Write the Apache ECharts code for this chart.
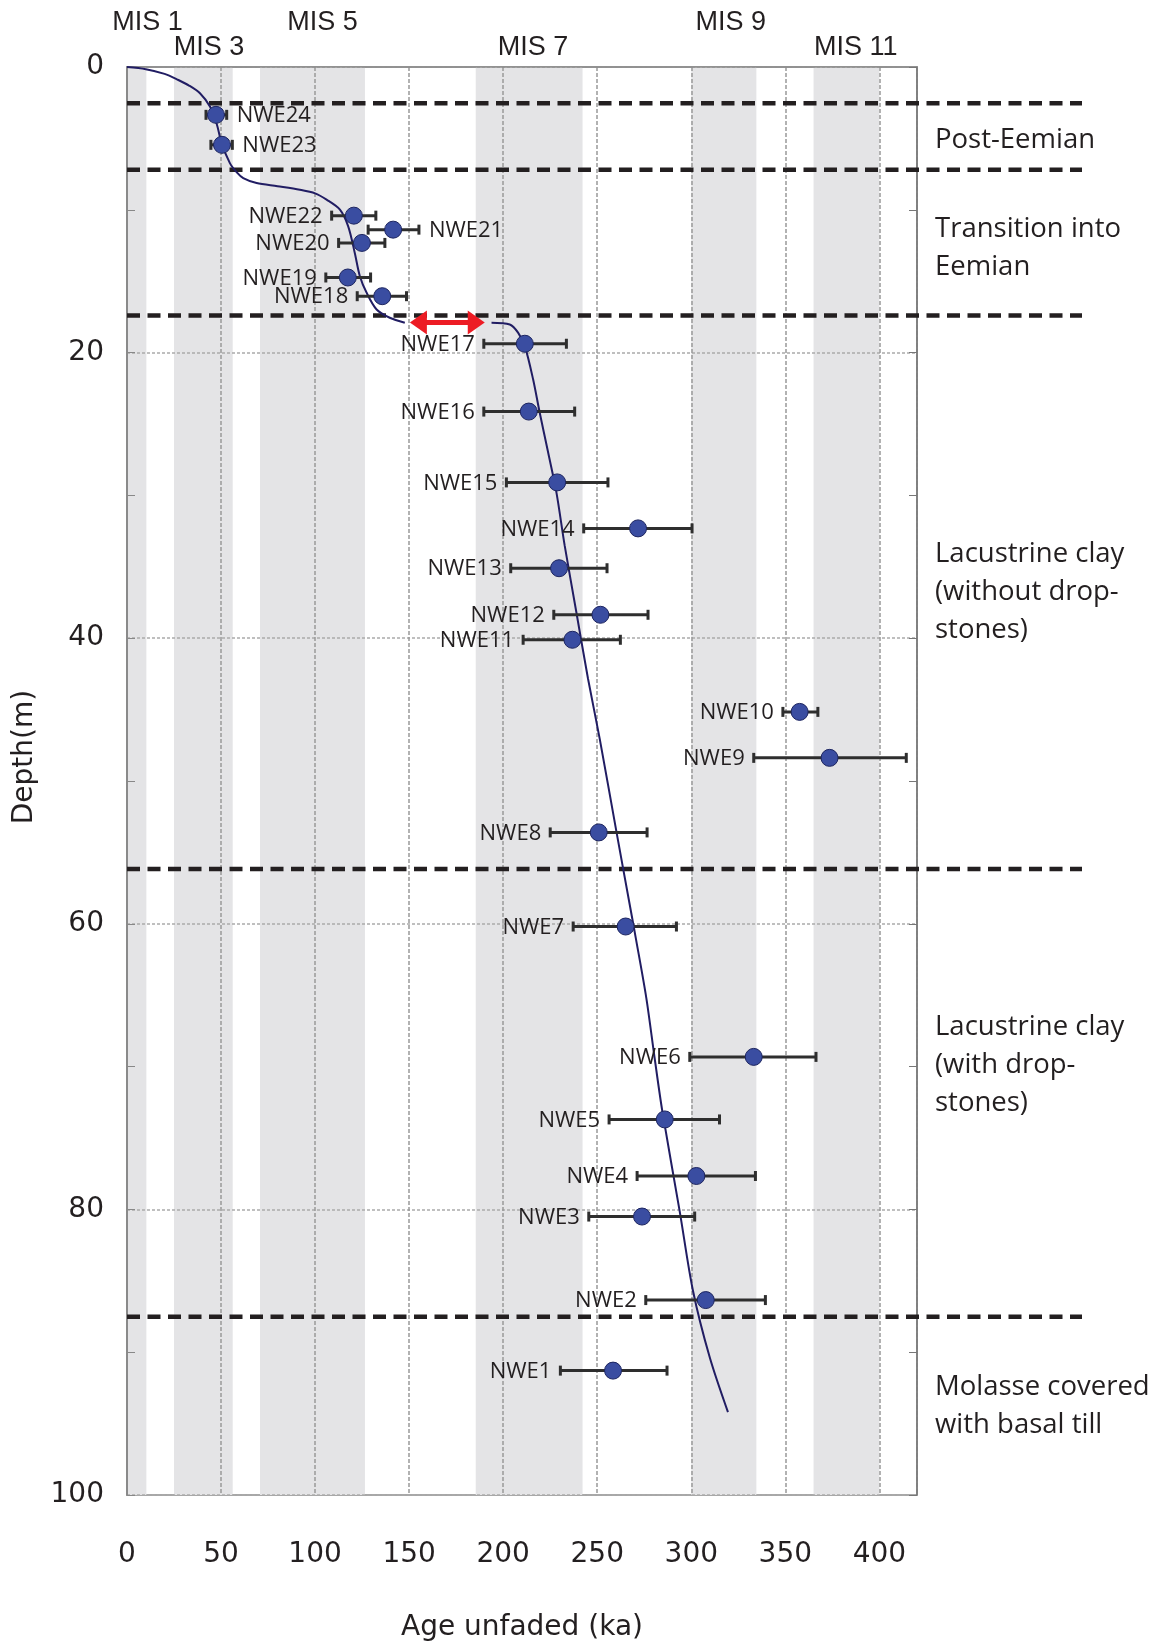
<!DOCTYPE html>
<html>
<head>
<meta charset="utf-8">
<script src="https://cdn.jsdelivr.net/npm/echarts@6/dist/echarts.min.js"></script>
<style>
html,body{margin:0;padding:0;background:#fff;}
#chart{width:1162px;height:1647px;}
</style>
</head>
<body>
<div id="chart"></div>
<script>
// ---------------- data ----------------
const sampleNames = ['NWE1','NWE2','NWE3','NWE4','NWE5','NWE6','NWE7','NWE8','NWE9','NWE10','NWE11','NWE12',
  'NWE13','NWE14','NWE15','NWE16','NWE17','NWE18','NWE19','NWE20','NWE21','NWE22','NWE23','NWE24'];
const sampleAges  = [258.4,307.7,273.8,302.7,285.9,333.2,265.1,250.8,373.5,357.6,236.8,251.7,
  229.7,271.7,228.7,213.6,211.5,135.7,117.4,124.9,141.5,120.6,50.5,47.3];
const sampleDepths = [91.29,86.35,80.5,77.66,73.7,69.32,60.19,53.6,48.38,45.16,40.11,38.36,
  35.1,32.31,29.09,24.13,19.38,16.05,14.74,12.32,11.39,10.41,5.45,3.35];
const ageLow  = [230.4,275.8,245.5,271.2,256.3,299.2,237.2,225.0,333.2,348.7,210.6,226.9,
  204.0,242.8,201.7,189.7,189.7,122.4,105.7,112.5,128.2,108.8,44.6,42.0];
const ageHigh = [287.1,339.4,301.8,334.1,315.0,366.3,292.1,276.5,414.3,367.3,262.3,277.0,
  255.2,300.4,255.7,238.0,233.6,148.6,129.5,137.1,155.2,132.3,56.0,53.0];
const labelSide = ['L','L','L','L','L','L','L','L','L','L','L','L',
  'L','L','L','L','L','L','L','L','R','L','R','R'];

// age-depth model (two segments)
const modelUpper = [[0,0],[10,0.15],[20,0.48],[27.3,0.91],[33,1.3],[38.8,1.84],[44.1,2.77],[47.6,3.94],
  [50.3,5.33],[54.7,6.73],[58.5,7.4],[61.8,7.78],[68.9,8.13],[80,8.35],[91.9,8.6],[100,8.85],
  [106.1,9.29],[113.2,9.99],[117.6,11.16],[121.1,13.02],[123.8,14.65],[127.4,15.81],[132.7,16.98],
  [139.7,17.56],[147.7,17.91]];
const modelLower = [[193.8,17.91],[203.5,18.03],[207.9,18.6],[211.5,19.55],[215.9,21.87],[219.4,24.2],
  [223.9,27],[228.3,29.79],[232.7,33.52],[238.9,38.18],[245.1,42.84],[251.3,47.03],[260.2,53.55],
  [267.3,58.68],[270.5,61.0],[276.1,65.2],[280.5,69.39],[284.6,73.12],[293.8,80.1],[300.9,85.7],
  [309.8,90.36],[319.5,94.2]];

// MIS bands
const bandStart = [0,25,70.7,185.4,300,365];
const bandEnd   = [10.3,56.2,126.5,242.2,334.6,400];
const misLabels = ['MIS 1','MIS 3','MIS 5','MIS 7','MIS 9','MIS 11'];
const misAges   = [10.9,43.6,103.9,215.8,321,387.5];
const misRow    = [0,1,0,1,0,1];

// unit boundaries (dashed) and annotation texts
const boundaryDepths = [2.54,7.2,17.4,56.16,87.51];
const unitTexts  = ['Post-Eemian','Transition into\nEemian','Lacustrine clay\n(without drop-\nstones)',
  'Lacustrine clay\n(with drop-\nstones)','Molasse covered\nwith basal till'];
const unitDepths = [5.1,12.72,36.76,69.88,93.78];

// hiatus arrow
const arrowAges = [150.4,190.2];
const arrowDepth = 17.9;

const xMax = 420, yMax = 100;

// ---------------- chart ----------------
const TXT = '#231f20';
const chart = echarts.init(document.getElementById('chart'), null, {renderer:'canvas'});

const errData = sampleNames.map((n,i)=>[ageLow[i],ageHigh[i],sampleDepths[i]]);

const option = {
  backgroundColor:'#fff',
  animation:false,
  grid:{left:127, top:67, width:790, height:1431, show:true, borderColor:'#8a8a8a', borderWidth:1.5, backgroundColor:'transparent'},
  xAxis:{
    type:'value', min:0, max:xMax, interval:50, position:'bottom', z:1,
    axisLine:{show:true, lineStyle:{color:'#8a8a8a', width:1.5}},
    axisTick:{show:false},
    axisLabel:{margin:46, fontFamily:'"DejaVu Sans"', fontSize:28, color:TXT, showMaxLabel:false},
    splitLine:{show:true, lineStyle:{color:'#999', width:1.5, type:[4,2]}},
    name:'Age unfaded (ka)', nameLocation:'middle', nameGap:119,
    nameTextStyle:{fontFamily:'"DejaVu Sans"', fontSize:28, color:TXT}
  },
  yAxis:[{
    type:'value', inverse:true, min:0, max:yMax, interval:20, position:'left', z:1,
    axisLine:{show:true, lineStyle:{color:'#8a8a8a', width:2}},
    axisTick:{show:false},
    axisLabel:{margin:23, fontFamily:'"DejaVu Sans"', fontSize:28, color:TXT},
    splitLine:{show:true, lineStyle:{color:'#aaa', width:1.5, type:[3,2]}},
    name:'Depth(m)', nameLocation:'middle', nameGap:88, nameRotate:90,
    nameTextStyle:{fontFamily:'"DejaVu Sans"', fontSize:28, color:TXT, padding:[0,0,0,48]}
  },{
    type:'value', inverse:true, min:0, max:yMax, interval:10, position:'right', z:1,
    axisLine:{show:true, lineStyle:{color:'#777', width:1.5}},
    axisTick:{show:true, inside:true, length:8, lineStyle:{color:'#777', width:1}},
    axisLabel:{show:false}, splitLine:{show:false}
  },{
    type:'value', inverse:true, min:0, max:yMax, interval:10, position:'left', z:1,
    axisLine:{show:false},
    axisTick:{show:true, inside:true, length:8, lineStyle:{color:'#888', width:1}},
    axisLabel:{show:false}, splitLine:{show:false}
  }],
  series:[
    { // MIS bands
      type:'custom', z:0, clip:true, silent:true,
      data: bandStart.map((s,i)=>[s,bandEnd[i]]),
      renderItem:(params, api)=>{
        const a = api.coord([api.value(0),0]);
        const b = api.coord([api.value(1),yMax]);
        return {type:'rect', shape:{x:a[0], y:a[1], width:b[0]-a[0], height:b[1]-a[1]}, style:{fill:'#e4e4e6'}};
      }
    },
    { // MIS labels
      type:'custom', z:5, clip:false, silent:true,
      data: misAges.map((a,i)=>[a,misRow[i]]),
      renderItem:(params, api)=>{
        const p = api.coord([api.value(0),0]);
        const off = api.value(1)===0 ? 44 : 19;
        return {type:'text', style:{text:misLabels[params.dataIndex], x:p[0], y:p[1]-off,
          align:'center', verticalAlign:'middle', fontFamily:'"Liberation Sans"', fontSize:27, fill:TXT}};
      }
    },
    { // dashed unit boundaries
      type:'custom', z:4, clip:false, silent:true,
      data: boundaryDepths.map(d=>[0,d]),
      renderItem:(params, api)=>{
        const a = api.coord([0, api.value(1)]);
        const b = api.coord([xMax, api.value(1)]);
        return {type:'line', shape:{x1:a[0], y1:a[1], x2:b[0]+165, y2:b[1]},
          style:{stroke:TXT, lineWidth:4.5, lineDash:[13,7.5]}};
      }
    },
    { // unit annotation texts
      type:'custom', z:5, clip:false, silent:true,
      data: unitDepths.map(d=>[xMax,d]),
      renderItem:(params, api)=>{
        const p = api.coord([api.value(0), api.value(1)]);
        return {type:'text', style:{text:unitTexts[params.dataIndex], x:p[0]+18, y:p[1],
          align:'left', verticalAlign:'middle', fontFamily:'"Open Sans"', fontSize:27.5, lineHeight:38, fill:TXT}};
      }
    },
    { // age model upper
      type:'line', z:6, data:modelUpper, showSymbol:false, symbol:'none', smooth:0.3,
      lineStyle:{color:'#211d63', width:2}, silent:true
    },
    { // age model lower
      type:'line', z:6, data:modelLower, showSymbol:false, symbol:'none', smooth:0.3,
      lineStyle:{color:'#211d63', width:2}, silent:true
    },
    { // hiatus arrow
      type:'custom', z:7, clip:false, silent:true,
      data:[[arrowAges[0],arrowAges[1],arrowDepth]],
      renderItem:(params, api)=>{
        const a = api.coord([api.value(0), api.value(2)]);
        const b = api.coord([api.value(1), api.value(2)]);
        const L = 17, H = 24;
        return {type:'group', children:[
          {type:'line', shape:{x1:a[0]+L-2, y1:a[1], x2:b[0]-L+2, y2:b[1]}, style:{stroke:'#ed1c24', lineWidth:5}},
          {type:'polygon', shape:{points:[[a[0],a[1]],[a[0]+L,a[1]-H/2],[a[0]+L,a[1]+H/2]]}, style:{fill:'#ed1c24'}},
          {type:'polygon', shape:{points:[[b[0],b[1]],[b[0]-L,b[1]-H/2],[b[0]-L,b[1]+H/2]]}, style:{fill:'#ed1c24'}}
        ]};
      }
    },
    { // error bars + labels
      type:'custom', z:8, clip:false, silent:true,
      data: errData,
      renderItem:(params, api)=>{
        const i = params.dataIndex;
        const a = api.coord([api.value(0), api.value(2)]);
        const b = api.coord([api.value(1), api.value(2)]);
        const c = 5;
        const st = {stroke:'#2e2e2e', lineWidth:3};
        const right = labelSide[i]==='R';
        return {type:'group', children:[
          {type:'line', shape:{x1:a[0], y1:a[1], x2:b[0], y2:b[1]}, style:st},
          {type:'line', shape:{x1:a[0], y1:a[1]-c, x2:a[0], y2:a[1]+c}, style:st},
          {type:'line', shape:{x1:b[0], y1:b[1]-c, x2:b[0], y2:b[1]+c}, style:st},
          {type:'text', style:{text:sampleNames[i], x: right ? b[0]+10 : a[0]-9, y:a[1]+1,
            align: right ? 'left':'right', verticalAlign:'middle',
            fontFamily:'"Open Sans"', fontSize:22, fill:TXT}}
        ]};
      }
    },
    { // samples
      type:'scatter', z:9, symbol:'circle', symbolSize:17,
      data: sampleAges.map((a,i)=>[a,sampleDepths[i]]),
      itemStyle:{color:'#3a4da1', borderColor:'#1d2560', borderWidth:1, opacity:1}
    }
  ]
};
chart.setOption(option);
</script>
</body>
</html>
